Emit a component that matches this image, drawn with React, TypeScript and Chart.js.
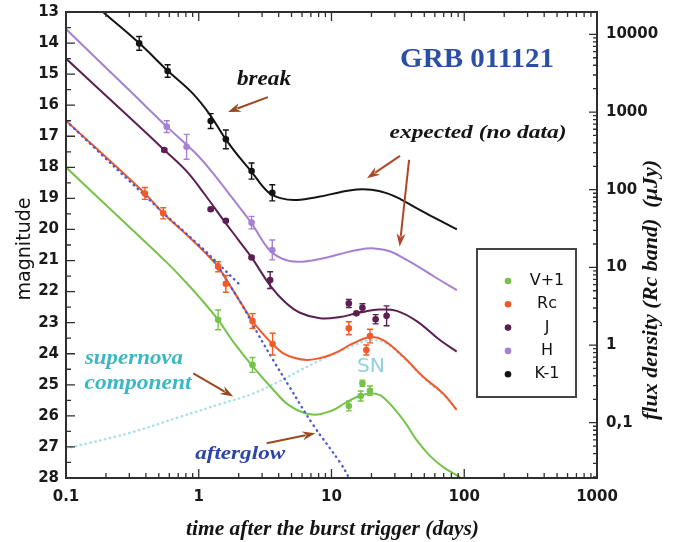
import React, { useEffect, useRef } from 'react';
import { Chart, registerables } from 'chart.js';

Chart.register(...registerables);

// ---------- axes ----------
const timeTicks = [0.1, 1, 10, 100, 1000];
const magTicks = [13, 14, 15, 16, 17, 18, 19, 20, 21, 22, 23, 24, 25, 26, 27, 28];
const fluxTicks = [0.1, 1, 10, 100, 1000, 10000];
const RC_ZERO_MAG = 23.72; // Rc magnitude of 1 microJansky

// ---------- bands ----------
const bandNames = ['V+1', 'Rc', 'J', 'H', 'K-1'];
const bandColors = ['#76c24a', '#f15a29', '#5c1f52', '#a580d3', '#141414'];

// ---------- model curves (days, magnitude) ----------
const vCurveT = [0.1, 0.3, 0.574, 0.8, 1.02, 1.4, 1.81, 2.54, 3.63, 4.8, 6.9, 9.8, 13, 16.2, 20.5, 24.5, 34.7, 43.8, 55, 69, 93.5];
const vCurveM = [18.0, 19.92, 21.06, 21.7, 22.2, 22.91, 23.6, 24.4, 25.15, 25.66, 25.95, 25.85, 25.56, 25.36, 25.28, 25.4, 26.13, 26.78, 27.28, 27.64, 27.98];

const rcCurveT = [0.1, 0.393, 0.54, 0.8, 1.1, 1.4, 1.6, 2.0, 2.54, 3.0, 3.6, 4.3, 5.3, 6.5, 8.0, 9.8, 11.6, 14, 19.4, 24.5, 34.7, 49, 69, 87.7];
const rcCurveM = [16.5, 18.84, 19.48, 20.15, 20.72, 21.2, 21.59, 22.25, 22.95, 23.33, 23.69, 23.98, 24.14, 24.2, 24.15, 24.04, 23.9, 23.7, 23.47, 23.56, 24.09, 24.74, 25.27, 25.81];

const jCurveT = [0.1, 0.3, 0.55, 0.8, 1.1, 1.53, 2.0, 2.5, 3.5, 4.5, 5.79, 8.2, 11.6, 15.4, 23, 31, 43.8, 65.5, 87.7];
const jCurveM = [14.5, 16.39, 17.44, 18.1, 18.85, 19.69, 20.35, 20.9, 21.84, 22.35, 22.68, 22.86, 22.82, 22.7, 22.58, 22.62, 22.95, 23.56, 23.93];

const hCurveT = [0.1, 0.3, 0.574, 0.8, 1.0, 1.288, 1.8, 2.5, 3.34, 4.2, 5.5, 8, 11.6, 16, 21, 27.5, 36.8, 46, 60, 88];
const hCurveM = [13.55, 15.52, 16.69, 17.25, 17.65, 18.2, 19.0, 19.8, 20.62, 20.93, 21.04, 20.96, 20.79, 20.65, 20.61, 20.7, 20.98, 21.22, 21.53, 21.95];

const kCurveT = [0.1, 0.19, 0.355, 0.587, 0.9, 1.215, 1.6, 2.0, 2.475, 3.34, 4.2, 5.5, 8, 11.6, 15.5, 20, 26, 33, 43, 60, 88];
const kCurveM = [11.95, 13.0, 14.0, 14.9, 15.62, 16.31, 17.1, 17.65, 18.12, 18.8, 19.0, 19.05, 18.95, 18.8, 18.71, 18.72, 18.83, 19.02, 19.3, 19.63, 20.0];

// ---------- components (dotted) ----------
const afterglowPreT = [0.1, 0.5, 1.0, 1.4, 2.0];
const afterglowPreM = [16.5, 19.33, 20.5, 21.1, 21.75];
const afterglowPostT = [1.0, 1.3, 1.6, 2.1, 2.78, 3.63, 4.8, 7.3, 11.6, 13.8];
const afterglowPostM = [20.5, 21.0, 21.6, 22.4, 23.35, 24.2, 25.05, 26.3, 27.5, 28.05];
const supernovaT = [0.1, 0.3, 0.7, 1.5, 2.5, 4, 6, 8.5, 11.6, 15, 19, 25, 35, 50, 70, 90];
const supernovaM = [27.05, 26.55, 26.05, 25.6, 25.3, 24.9, 24.5, 24.18, 23.92, 23.72, 23.57, 23.64, 24.14, 24.8, 25.33, 25.85];

// ---------- observations (days, magnitude, error) ----------
const vObsT = [1.4, 2.54, 13.5, 16.6, 17.1, 19.5];
const vObsM = [22.91, 24.36, 25.68, 25.36, 24.95, 25.19];
const vObsE = [0.32, 0.24, 0.16, 0.16, 0.1, 0.15];

const rcObsT = [0.393, 0.54, 1.4, 1.6, 2.54, 3.6, 13.5, 18.3, 19.5];
const rcObsM = [18.84, 19.48, 21.2, 21.75, 22.95, 23.69, 23.18, 23.88, 23.43];
const rcObsE = [0.19, 0.18, 0.16, 0.27, 0.24, 0.35, 0.21, 0.16, 0.22];

const jObsT = [0.55, 1.23, 1.6, 2.5, 3.45, 13.5, 15.4, 17.1, 21.5, 26];
const jObsM = [17.44, 19.35, 19.72, 20.9, 21.63, 22.38, 22.7, 22.52, 22.89, 22.78];
const jObsE = [0.04, 0.04, 0.04, 0.04, 0.27, 0.13, 0.04, 0.13, 0.15, 0.32];

const hObsT = [0.574, 0.81, 2.5, 3.58];
const hObsM = [16.69, 17.34, 19.78, 20.66];
const hObsE = [0.19, 0.4, 0.2, 0.32];

const kObsT = [0.356, 0.583, 1.23, 1.6, 2.5, 3.58];
const kObsM = [14.01, 14.9, 16.51, 17.1, 18.12, 18.82];
const kObsE = [0.22, 0.2, 0.24, 0.3, 0.26, 0.26];

// ---------- annotations (days, magnitude) ----------
const noteTexts = ['GRB 011121', 'break', 'expected (no data)', 'supernova', 'component', 'afterglow', 'SN'];
const noteT = [125, 3.1, 127, 0.325, 0.349, 2.05, 19.8];
const noteM = [14.54, 15.19, 16.89, 24.14, 24.97, 27.22, 24.43];
const arrowFromT = [3.32, 32.8, 38.4, 0.91, 3.25];
const arrowFromM = [15.74, 17.63, 17.76, 24.63, 26.88];
const arrowToT = [1.66, 18.5, 32.6, 1.82, 7.56];
const arrowToM = [16.22, 18.35, 20.55, 25.38, 26.56];

const SERIF = '"Liberation Serif", "Times New Roman", serif';
const SANS = '"DejaVu Sans", sans-serif';

const noteStyles = [
  { font: `bold 28px ${SERIF}`, color: '#2b4fa5', w: 154 },
  { font: `italic bold 20px ${SERIF}`, color: '#141414', w: 54 },
  { font: `italic bold 19px ${SERIF}`, color: '#141414', w: 177 },
  { font: `italic bold 21px ${SERIF}`, color: '#39b9c3', w: 98 },
  { font: `italic bold 21px ${SERIF}`, color: '#39b9c3', w: 107 },
  { font: `italic bold 19px ${SERIF}`, color: '#2d44a8', w: 90 },
  { font: `20px ${SANS}`, color: '#8fd2da', w: 28 },
];
const arrowColors = ['#9b4a20', '#b04628', '#b04628', '#9b4a20', '#9b4a20'];

const pts = (t: number[], m: number[]) => t.map((x, i) => ({ x, y: m[i] }));

function drawText(ctx: CanvasRenderingContext2D, text: string, x: number, y: number, font: string, color: string, width: number, rot = 0, perp = 1) {
  ctx.save();
  ctx.font = font;
  ctx.fillStyle = color;
  ctx.textAlign = 'center';
  ctx.textBaseline = 'middle';
  ctx.translate(x, y);
  ctx.rotate(rot);
  const w = ctx.measureText(text).width;
  ctx.scale(width ? width / w : 1, perp);
  ctx.fillText(text, 0, 0);
  ctx.restore();
}

function drawArrow(ctx: CanvasRenderingContext2D, x1: number, y1: number, x2: number, y2: number, color: string) {
  const a = Math.atan2(y2 - y1, x2 - x1);
  const head = 13;
  const hw = 4.5;
  const bx = x2 - head * Math.cos(a);
  const by = y2 - head * Math.sin(a);
  ctx.save();
  ctx.strokeStyle = color;
  ctx.fillStyle = color;
  ctx.lineWidth = 2;
  ctx.beginPath();
  ctx.moveTo(x1, y1);
  ctx.lineTo(bx + 3 * Math.cos(a), by + 3 * Math.sin(a));
  ctx.stroke();
  ctx.beginPath();
  ctx.moveTo(x2, y2);
  ctx.lineTo(bx + hw * Math.sin(a), by - hw * Math.cos(a));
  ctx.lineTo(bx + 4 * Math.cos(a), by + 4 * Math.sin(a));
  ctx.lineTo(bx - hw * Math.sin(a), by + hw * Math.cos(a));
  ctx.closePath();
  ctx.fill();
  ctx.restore();
}

const zeroPad = (s: any) => {
  s.paddingTop = 0;
  s.paddingBottom = 0;
  s.paddingLeft = 0;
  s.paddingRight = 0;
};

const decorPlugin = {
  id: 'decor',
  afterDatasetsDraw(chart: any) {
    const ctx: CanvasRenderingContext2D = chart.ctx;
    const ys = chart.scales.y;
    chart.data.datasets.forEach((ds: any, i: number) => {
      if (!ds.errors) return;
      const meta = chart.getDatasetMeta(i);
      ctx.save();
      ctx.strokeStyle = ds.pointBackgroundColor;
      ctx.lineWidth = 1.4;
      meta.data.forEach((el: any, j: number) => {
        const m = ds.data[j].y;
        const e = ds.errors[j];
        const y1 = ys.getPixelForValue(m - e);
        const y2 = ys.getPixelForValue(m + e);
        ctx.beginPath();
        ctx.moveTo(el.x, y1);
        ctx.lineTo(el.x, y2);
        ctx.moveTo(el.x - 3, y1);
        ctx.lineTo(el.x + 3, y1);
        ctx.moveTo(el.x - 3, y2);
        ctx.lineTo(el.x + 3, y2);
        ctx.stroke();
      });
      ctx.restore();
    });
  },
  afterDraw(chart: any) {
    const ctx: CanvasRenderingContext2D = chart.ctx;
    const { left, right, top, bottom } = chart.chartArea;
    const xs = chart.scales.x;
    const ys = chart.scales.y;
    const y2s = chart.scales.y2;

    // frame + inward ticks
    ctx.save();
    ctx.strokeStyle = '#2e2e2e';
    ctx.lineWidth = 1.3;
    ctx.beginPath();
    for (let d = 0; d < timeTicks.length; d++) {
      const base = timeTicks[d];
      for (let k = 1; k <= 9; k++) {
        const v = base * k;
        if (v > xs.max * 1.0001) break;
        const px = xs.getPixelForValue(v);
        const len = k === 1 ? 9 : 5;
        ctx.moveTo(px, bottom);
        ctx.lineTo(px, bottom - len);
        ctx.moveTo(px, top);
        ctx.lineTo(px, top + len);
      }
    }
    for (let m = magTicks[0]; m <= magTicks[magTicks.length - 1]; m += 0.5) {
      const py = ys.getPixelForValue(m);
      const len = Number.isInteger(m) ? 9 : 5;
      ctx.moveTo(left, py);
      ctx.lineTo(left + len, py);
    }
    for (let d = 0; d < fluxTicks.length + 1; d++) {
      const base = fluxTicks[0] * Math.pow(10, d - 1);
      for (let k = 1; k <= 9; k++) {
        const v = base * k;
        if (v < y2s.min || v > y2s.max) continue;
        const py = y2s.getPixelForValue(v);
        const len = k === 1 ? 8 : 4;
        ctx.moveTo(right, py);
        ctx.lineTo(right - len, py);
      }
    }
    ctx.stroke();
    ctx.lineWidth = 2;
    ctx.strokeRect(left, top, right - left, bottom - top);
    ctx.restore();

    // annotations
    noteTexts.forEach((t, i) => {
      const st = noteStyles[i];
      drawText(ctx, t, xs.getPixelForValue(noteT[i]), ys.getPixelForValue(noteM[i]), st.font, st.color, st.w);
    });
    arrowFromT.forEach((t, i) => {
      drawArrow(ctx, xs.getPixelForValue(t), ys.getPixelForValue(arrowFromM[i]),
        xs.getPixelForValue(arrowToT[i]), ys.getPixelForValue(arrowToM[i]), arrowColors[i]);
    });

    // axis titles
    drawText(ctx, 'magnitude', 25, 249, `19px ${SANS}`, '#141414', 103, -Math.PI / 2);
    drawText(ctx, 'flux density (Rc band)  (\u03bcJy)', 652, 290, `italic bold 19px ${SERIF}`, '#141414', 260, -Math.PI / 2, 1.1);
    drawText(ctx, 'time after the burst trigger (days)', (left + right) / 2 + 1, 530, `italic bold 20px ${SERIF}`, '#141414', 293);

    // legend
    const bx = right - 120;
    const by = top + 237;
    ctx.save();
    ctx.strokeStyle = '#444';
    ctx.lineWidth = 2;
    ctx.strokeRect(bx, by, 99, 148);
    bandNames.forEach((name, i) => {
      const yy = by + 32 + i * 23.3;
      ctx.fillStyle = bandColors[i];
      ctx.beginPath();
      ctx.arc(bx + 31, yy, 3.3, 0, Math.PI * 2);
      ctx.fill();
      ctx.fillStyle = '#141414';
      ctx.font = `16px ${SANS}`;
      ctx.textAlign = 'center';
      ctx.textBaseline = 'middle';
      ctx.fillText(name, bx + 70, yy);
    });
    ctx.restore();
  },
};

export default function App() {
  const ref = useRef<HTMLCanvasElement>(null);

  useEffect(() => {
    if (!ref.current) return;
    const obsT = [vObsT, rcObsT, jObsT, hObsT, kObsT];
    const obsM = [vObsM, rcObsM, jObsM, hObsM, kObsM];
    const obsE = [vObsE, rcObsE, jObsE, hObsE, kObsE];
    const curveT = [vCurveT, rcCurveT, jCurveT, hCurveT, kCurveT];
    const curveM = [vCurveM, rcCurveM, jCurveM, hCurveM, kCurveM];

    const pointSets = bandNames.map((name, i) => ({
      label: name + ' data',
      data: pts(obsT[i], obsM[i]),
      showLine: false,
      pointRadius: 3.3,
      pointBackgroundColor: bandColors[i],
      pointBorderWidth: 0,
      borderColor: bandColors[i],
      errors: obsE[i],
    }));
    const dotted = (label: string, t: number[], m: number[], color: string, dash: number[]) => ({
      label,
      data: pts(t, m),
      borderColor: color,
      borderWidth: 2.4,
      borderDash: dash,
      borderCapStyle: 'round',
      pointRadius: 0,
      tension: 0.4,
      fill: false,
    });
    const afterglowSets = [
      dotted('afterglow', afterglowPreT, afterglowPreM, '#4c5bd0', [0.5, 5]),
      dotted('afterglow break', afterglowPostT, afterglowPostM, '#4c5bd0', [0.5, 5]),
    ];
    const curveSets = bandNames.map((name, i) => ({
      label: name,
      data: pts(curveT[i], curveM[i]),
      borderColor: bandColors[i],
      borderWidth: 2,
      pointRadius: 0,
      tension: 0.4,
      fill: false,
    }));
    const snSet = dotted('supernova', supernovaT, supernovaM, '#a9dfe8', [0.5, 4.5]);

    const tickFont = { family: 'DejaVu Sans', weight: 'bold' as const, size: 15 };

    const chart = new Chart(ref.current, {
      type: 'line',
      data: { datasets: [...pointSets, ...afterglowSets, ...curveSets, snSet] as any },
      options: {
        responsive: false,
        animation: false,
        devicePixelRatio: 1,
        events: [],
        layout: { padding: { top: 12, left: 0, right: 0, bottom: 0 } },
        plugins: { legend: { display: false }, tooltip: { enabled: false }, title: { display: false } },
        scales: {
          x: {
            type: 'logarithmic',
            position: 'bottom',
            min: timeTicks[0],
            max: timeTicks[timeTicks.length - 1],
            grid: { display: false, drawTicks: false },
            border: { display: false },
            afterBuildTicks: (s: any) => { s.ticks = timeTicks.map((v) => ({ value: v })); },
            afterFit: (s: any) => { s.height = 64; zeroPad(s); },
            ticks: {
              autoSkip: false, maxRotation: 0, padding: 10, font: tickFont, color: '#1a1a1a',
              callback: (v: any) => (v < 1 ? String(Math.round(v * 10) / 10) : String(Math.round(v))),
            },
          },
          y: {
            type: 'linear',
            position: 'left',
            reverse: true,
            min: magTicks[0],
            max: magTicks[magTicks.length - 1],
            grid: { display: false, drawTicks: false },
            border: { display: false },
            afterBuildTicks: (s: any) => { s.ticks = magTicks.map((v) => ({ value: v })); },
            afterFit: (s: any) => { s.width = 66; zeroPad(s); },
            ticks: { autoSkip: false, padding: 7, font: tickFont, color: '#1a1a1a' },
          },
          y2: {
            type: 'logarithmic',
            position: 'right',
            min: Math.pow(10, (RC_ZERO_MAG - magTicks[magTicks.length - 1]) / 2.5),
            max: Math.pow(10, (RC_ZERO_MAG - magTicks[0]) / 2.5),
            grid: { display: false, drawTicks: false },
            border: { display: false },
            afterBuildTicks: (s: any) => { s.ticks = fluxTicks.map((v) => ({ value: v })); },
            afterFit: (s: any) => { s.width = 77; zeroPad(s); },
            ticks: {
              autoSkip: false, padding: 9, font: tickFont, color: '#1a1a1a',
              callback: (v: any) => (v < 1 ? String(Math.round(v * 10) / 10).replace('.', ',') : String(Math.round(v))),
            },
          },
        },
      } as any,
      plugins: [decorPlugin],
    });
    return () => chart.destroy();
  }, []);

  return (
    <div style={{ position: 'absolute', left: 0, top: 0, width: 674, height: 542, background: '#fff' }}>
      <canvas ref={ref} width={674} height={542} style={{ display: 'block' }} />
    </div>
  );
}
